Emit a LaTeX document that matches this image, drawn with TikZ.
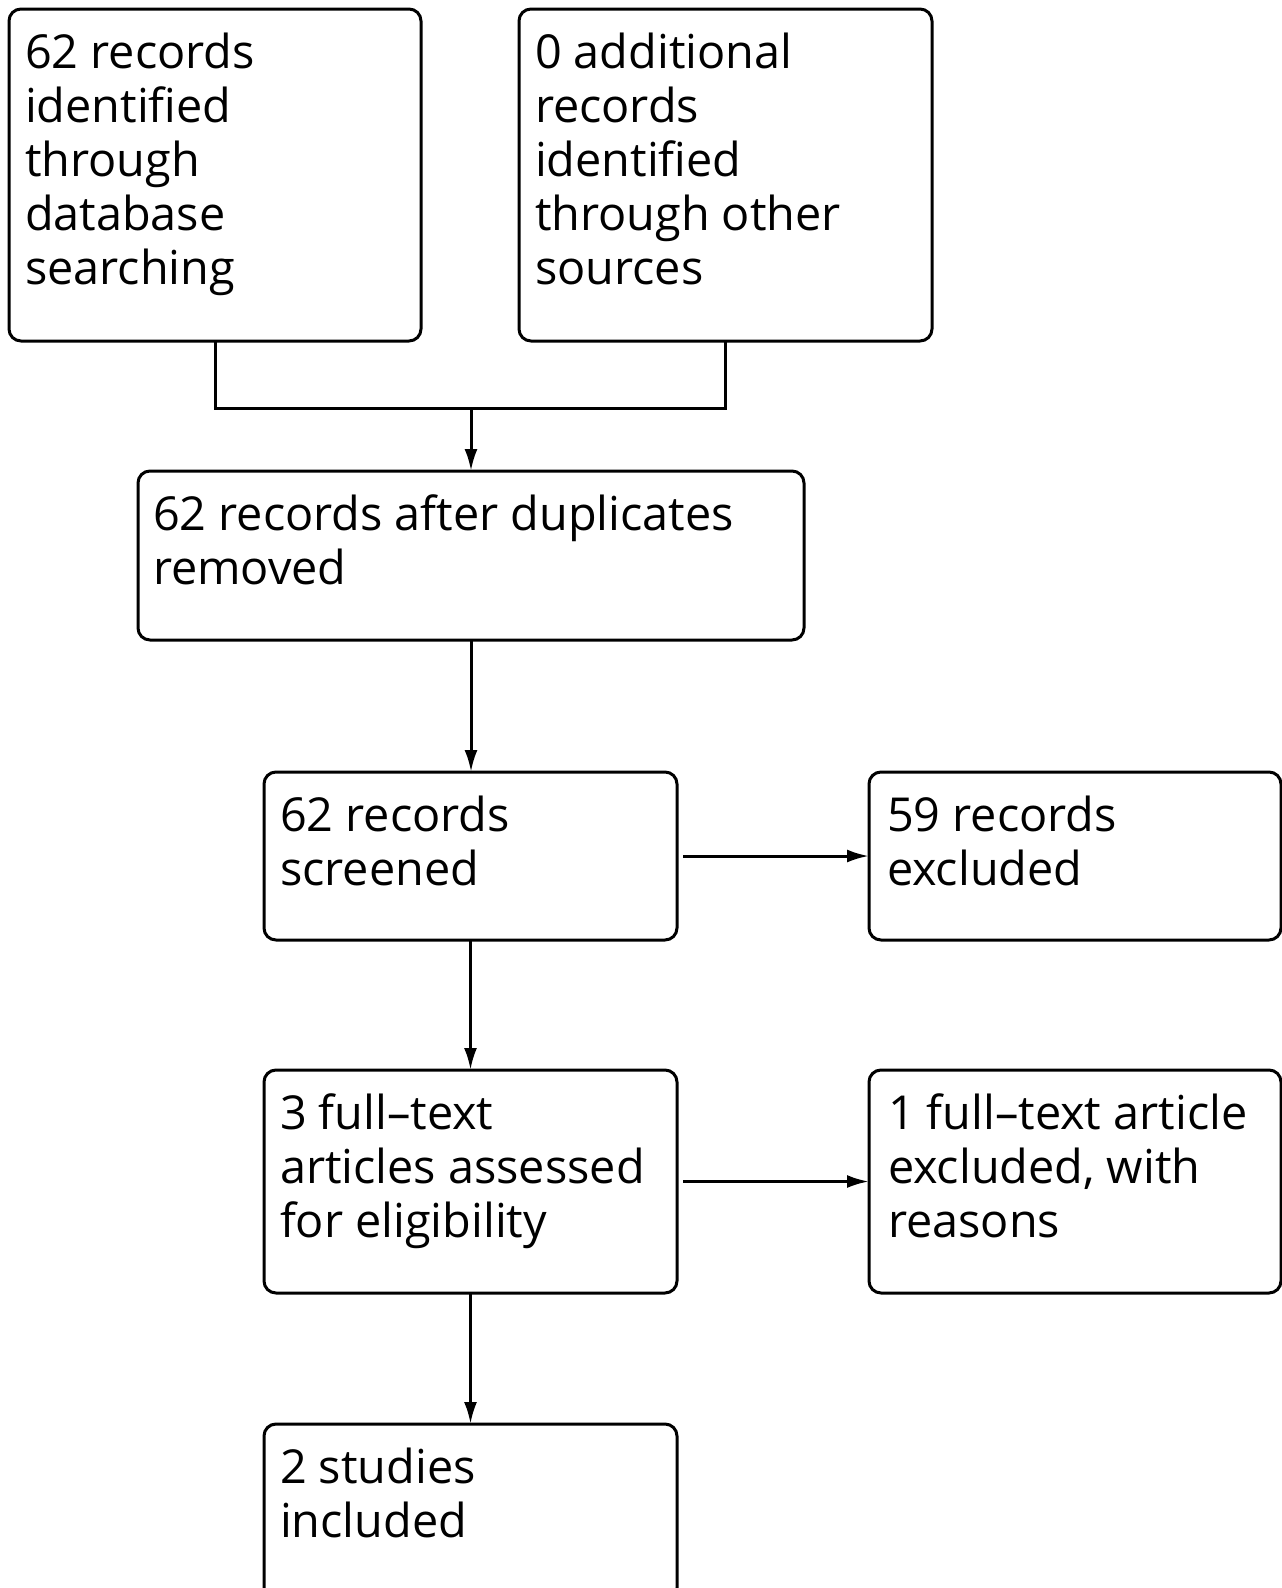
\documentclass[tikz,border=0pt]{standalone}
\usepackage{fontspec}
\setmainfont{Open Sans}
\usetikzlibrary{arrows.meta}
\tikzset{
  box/.style={draw=black, line width=3pt, rounded corners=12pt, inner sep=0pt, outer sep=0pt},
  txt/.style={anchor=base west, inner sep=0pt, outer sep=0pt, font=\fontsize{46.8}{54}\selectfont},
  conn/.style={draw=black, line width=3pt},
  arr/.style={conn, -{Latex[length=22pt,width=13pt]}}
}
\newcommand{\boxtext}[1]{\parbox[t]{620pt}{\raggedright #1}}
\begin{document}
\begin{tikzpicture}[x=1pt,y=-1pt]
\useasboundingbox (0,0) rectangle (1282,1588);
\clip (0,0) rectangle (1282,1588);
\fill[white] (0,0) rectangle (1282,1588);
% boxes
\node[box, minimum width=412pt, minimum height=332pt] (b1) at (215,175) {};
\node[box, minimum width=413pt, minimum height=332pt] (b2) at (725.5,175) {};
\node[box, minimum width=666pt, minimum height=169pt] (b3) at (471,555.5) {};
\node[box, minimum width=413pt, minimum height=168pt] (b4) at (470.5,856) {};
\node[box, minimum width=412pt, minimum height=168pt] (b5) at (1075,856) {};
\node[box, minimum width=413pt, minimum height=223pt] (b6) at (470.5,1181.5) {};
\node[box, minimum width=412pt, minimum height=223pt] (b7) at (1075,1181.5) {};
\node[box, minimum width=413pt, minimum height=176pt] (b8) at (470.5,1512) {};
% texts
\node[txt] (t1) at (25,68) {\boxtext{62 records\\identified\\through\\database\\searching}};
\node[txt] (t2) at (535,68) {\boxtext{0 additional\\records\\identified\\through other\\sources}};
\node[txt] (t3) at (153,530) {\boxtext{62 records after duplicates\\removed}};
\node[txt] (t4) at (280,831) {\boxtext{62 records\\screened}};
\node[txt] (t5) at (887,831) {\boxtext{59 records\\excluded}};
\node[txt] (t6) at (280,1129) {\boxtext{3 full–text\\articles assessed\\for eligibility}};
\node[txt] (t7) at (888,1129) {\boxtext{1 full–text article\\excluded, with\\reasons}};
\node[txt] (t8) at (280,1483) {\boxtext{2 studies\\included}};
% connectors
\coordinate (m) at (471,408);
\draw[conn] (b1.south) |- (m);
\draw[conn] (b2.south) |- (m);
\draw[arr] (m) -- (b3.north);
\draw[arr] (b3.south) -- (b3.south |- b4.north);
\draw[arr] (b4.south) -- (b6.north);
\draw[arr] (b6.south) -- (b8.north);
\draw[arr] ([xshift=6pt]b4.east) -- (b5.west);
\draw[arr] ([xshift=6pt]b6.east) -- (b7.west);
\end{tikzpicture}
\end{document}
